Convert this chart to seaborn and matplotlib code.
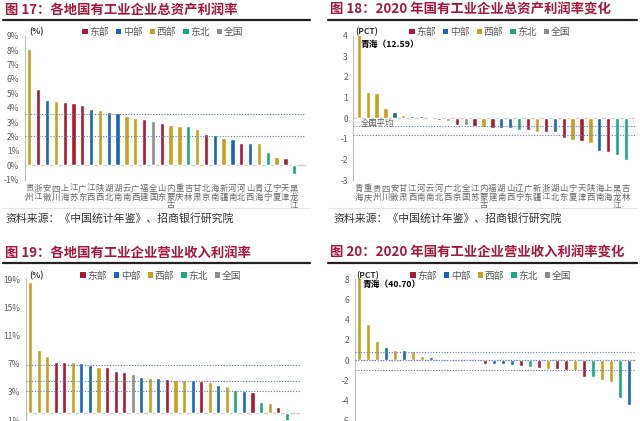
import matplotlib
matplotlib.use("Agg")
import matplotlib.pyplot as plt
from matplotlib.patches import Patch
from matplotlib.lines import Line2D
import seaborn as sns
import pandas as pd

# ---- data ----
regions = ["东部", "中部", "西部", "东北", "全国"]
region_colors = {"东部": "#AE1730", "中部": "#1565C0", "西部": "#C9A01C",
                 "东北": "#1AA584", "全国": "#8C8C8C"}

# 图17 总资产利润率 (%)
prov_17 = ["贵州", "浙江", "安徽", "四川", "上海", "江苏", "广东", "江西", "陕西", "湖北",
           "湖南", "云南", "广西", "福建", "全国", "山东", "内蒙古", "重庆", "吉林", "甘肃",
           "北京", "海南", "新疆", "河南", "河北", "山西", "青海", "辽宁", "宁夏", "天津", "黑龙江"]
val_17 = [8.05, 5.27, 4.50, 4.45, 4.39, 4.32, 4.18, 3.94, 3.85, 3.71,
          3.60, 3.41, 3.29, 3.20, 3.06, 2.97, 2.81, 2.76, 2.72, 2.55,
          2.18, 2.09, 1.93, 1.83, 1.58, 1.53, 1.53, 0.95, 0.58, 0.49, -0.62]
reg_17 = ["西部", "东部", "中部", "西部", "东部", "东部", "东部", "中部", "西部", "中部",
          "中部", "西部", "西部", "东部", "全国", "东部", "西部", "西部", "东北", "西部",
          "东部", "中部", "西部", "中部", "东部", "中部", "西部", "东北", "西部", "东部", "东北"]
ref_17 = [3.53, 2.02]

# 图18 2020年总资产利润率变化 (PCT)
prov_18 = ["青海", "重庆", "贵州", "四川", "安徽", "甘肃", "江西", "河南", "云南", "河北",
           "广西", "北京", "全国", "江苏", "内蒙古", "福建", "湖南", "山西", "辽宁", "广东",
           "新疆", "浙江", "湖北", "山东", "宁夏", "天津", "陕西", "海南", "上海", "黑龙江", "吉林"]
val_18 = [12.59, 1.26, 1.21, 0.50, 0.29, 0.13, 0.10, 0.10, -0.06, -0.08,
          -0.16, -0.32, -0.34, -0.37, -0.42, -0.48, -0.50, -0.50, -0.56, -0.56,
          -0.68, -0.69, -0.68, -0.94, -1.05, -1.11, -1.21, -1.61, -1.66, -1.77, -2.02]
reg_18 = ["西部", "西部", "西部", "西部", "中部", "西部", "中部", "中部", "西部", "东部",
          "西部", "东部", "全国", "东部", "西部", "东部", "中部", "中部", "东北", "东部",
          "西部", "东部", "中部", "东部", "西部", "东部", "西部", "中部", "东部", "东北", "东北"]
ref_18 = [-0.40, -0.84]

# 图19 营业收入利润率 (%)
val_19 = [18.58, 9.00, 8.10, 7.25, 7.25, 7.20, 7.06, 6.82, 6.59, 6.49,
          5.92, 5.78, 5.50, 5.12, 5.02, 4.98, 4.88, 4.69, 4.69, 4.64,
          4.50, 4.41, 3.93, 3.89, 3.27, 3.08, 2.94, 1.52, 1.42, 0.85, -1.20]
reg_19 = ["西部", "西部", "西部", "东部", "东部", "西部", "中部", "中部", "西部", "东部",
          "东部", "东部", "全国", "中部", "西部", "中部", "东部", "西部", "西部", "中部",
          "东部", "西部", "中部", "西部", "东北", "中部", "东部", "东北", "西部", "东部", "东北"]
ref_19 = [6.78, 4.55, 3.08]

# 图20 2020年营业收入利润率变化 (PCT)
val_20 = [40.70, 3.53, 1.91, 1.25, 0.99, 0.96, 0.92, 0.43, 0.26, 0.13,
          0.10, 0.05, 0.02, -0.08, -0.36, -0.40, -0.43, -0.53, -0.63, -0.66,
          -0.83, -0.86, -0.92, -0.96, -1.02, -1.65, -1.72, -1.98, -2.15, -3.73, -4.49]
reg_20 = ["西部", "西部", "西部", "中部", "西部", "中部", "西部", "西部", "中部", "西部",
          "东部", "东部", "东部", "全国", "东部", "中部", "中部", "中部", "东部", "东北",
          "东部", "西部", "东部", "东部", "西部", "东部", "东北", "西部", "西部", "东北", "中部"]
ref_20 = [0.76, 0.0, -0.99]

sns.set_style("white")
plt.rcParams['font.family'] = ['Noto Sans CJK SC', 'DejaVu Sans']

W, H = 640, 421
fig = plt.figure(figsize=(W / 100, H / 100), dpi=100)
RED = "#A8163B"
GRID = "#5B7DB5"


def px(x, y):
    return x / W, 1 - y / H


def draw_panel(rect, labels, values, regs, ylim, yticks, ytickfmt, xlim, refs, width):
    ax = fig.add_axes(rect)
    df = pd.DataFrame({"x": range(len(values)), "v": values, "r": regs})
    sns.barplot(data=df, x="x", y="v", hue="r", palette=region_colors, dodge=False,
                width=width, legend=False, ax=ax, saturation=1)
    ax.set_ylim(*ylim)
    ax.set_xlim(*xlim)
    ax.set_yticks(yticks)
    ax.set_yticklabels([ytickfmt(t) for t in yticks])
    ax.axhline(0, color="#d0d0d0", lw=1, zorder=0.5)
    for r in refs:
        ax.axhline(r, color=GRID, lw=0.8, ls=(0, (1, 1.5)), zorder=3)
    for s in ["top", "right", "bottom"]:
        ax.spines[s].set_visible(False)
    ax.spines["left"].set_color("#bfbfbf")
    ax.spines["left"].set_linewidth(0.8)
    ax.tick_params(axis="y", length=2, width=0.6, color="#bfbfbf", labelsize=6,
                   labelcolor="#595959", pad=2)
    ax.set_xlabel("")
    ax.set_ylabel("")
    if labels:
        ax.set_xticks(range(len(labels)))
        ax.set_xticklabels(["\n".join(list(l)) for l in labels], fontsize=6,
                           color="#666666", linespacing=0.95)
        ax.tick_params(axis="x", length=0, pad=3)
        ax.xaxis.set_ticks_position("bottom")
    else:
        ax.set_xticks([])
    return ax


def add_legend(cx, cy):
    handles = [Patch(facecolor=region_colors[r], edgecolor="none", label=r) for r in regions]
    fig.legend(handles=handles, loc="center", bbox_to_anchor=px(cx, cy), ncol=5,
               frameon=False, fontsize=7, handlelength=0.55, handleheight=0.55,
               handletextpad=0.2, columnspacing=0.7, labelcolor="#595959")


def header(x0, x1, y_title, y_line, text):
    fig.text(*px(x0 + 2, y_title), text, fontsize=9.6, fontweight="bold", color=RED,
             va="center", ha="left")
    fig.add_artist(Line2D([x0 / W, x1 / W], [1 - y_line / H] * 2, color="#222222", lw=1.6))


pct = lambda t: f"{t:.0f}%"
num = lambda t: f"{t:.0f}"

# 图17
header(3, 310, 10, 19.5, "图 17：各地国有工业企业总资产利润率")
ax17 = draw_panel([24.9 / W, 1 - 179.7 / H, (305.7 - 24.9) / W, 144.0 / H],
                  prov_17, val_17, reg_17, (-1, 9), list(range(-1, 10)), pct,
                  (-0.5, 31.3), ref_17, 0.48)
fig.text(*px(29, 32), "(%)", fontsize=6, color="#333333", va="center", fontweight="bold")
add_legend(163, 32)

# 图18
header(328, 637, 10, 19.5, "图 18：2020 年国有工业企业总资产利润率变化")
ax18 = draw_panel([353.4 / W, 1 - 180 / H, (635 - 353.4) / W, 144.3 / H],
                  prov_18, val_18, reg_18, (-3, 4), list(range(-3, 5)), num,
                  (-0.6, 31.0), ref_18, 0.48)
fig.text(*px(355, 32), "(PCT)", fontsize=6, color="#333333", va="center", fontweight="bold")
fig.text(*px(361, 44), "青海（12.59）", fontsize=6.3, color="black", va="center",
         fontweight="bold")
ax18.text(0.2, -0.27, "全国平均", fontsize=6, color="#595959", va="center", ha="left")
add_legend(490, 32)

# faint frame lines under upper charts
for xa, xb in [(3, 310), (328, 637)]:
    fig.add_artist(Line2D([xa / W, xb / W], [1 - 207.5 / H] * 2, color="#e6e6e6", lw=0.8))

# sources
for x0 in [5, 333]:
    fig.text(*px(x0, 218), "资料来源：《中国统计年鉴》、招商银行研究院", fontsize=7.8,
             color="#333333", va="center", ha="left")

# 图19
header(3, 310, 253, 262.5, "图 19：各地国有工业企业营业收入利润率")
ax19 = draw_panel([26 / W, 1 - 420 / H, (299.6 - 26) / W, 140.7 / H],
                  None, val_19, reg_19, (-1, 19), [-1, 3, 7, 11, 15, 19], pct,
                  (-0.47, 31.5), ref_19, 0.48)
fig.text(*px(29, 275.5), "(%)", fontsize=6, color="#333333", va="center", fontweight="bold")
add_legend(161, 275.5)

# 图20
header(328, 637, 253, 262.5, "图 20：2020 年国有工业企业营业收入利润率变化")
ax20 = draw_panel([355 / W, 1 - 420.7 / H, (636 - 355) / W, 141.4 / H],
                  None, val_20, reg_20, (-6, 8), list(range(-6, 9, 2)), num,
                  (-0.44, 30.8), ref_20, 0.48)
fig.text(*px(356, 275.5), "(PCT)", fontsize=6, color="#333333", va="center", fontweight="bold")
fig.text(*px(363, 284), "青海（40.70）", fontsize=6.3, color="black", va="center",
         fontweight="bold")
add_legend(491, 275.5)

fig.savefig("out.png", dpi=100)
